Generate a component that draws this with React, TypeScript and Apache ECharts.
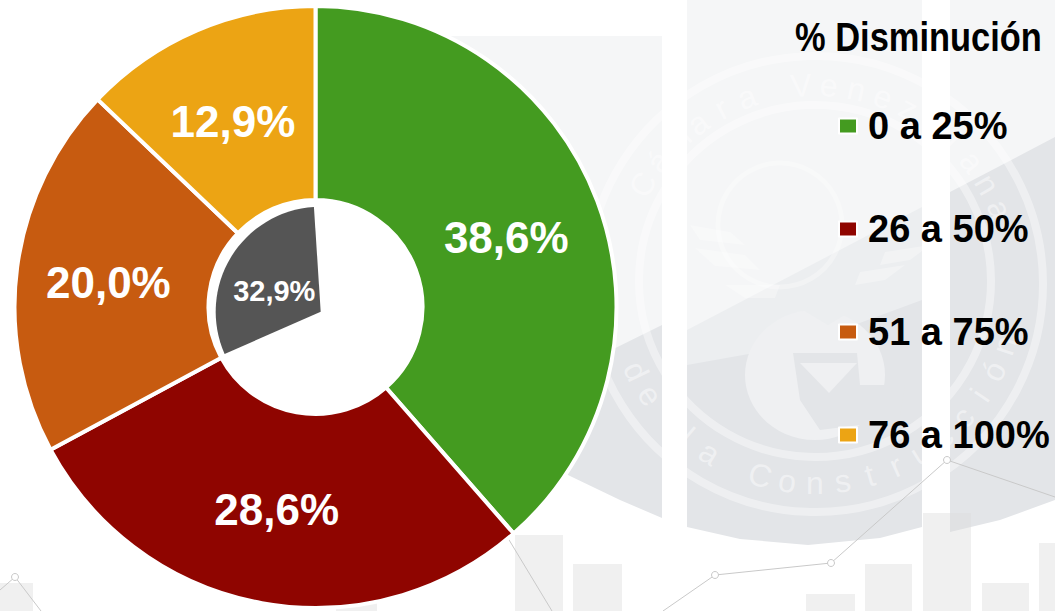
import React, { useEffect, useRef } from "react";
import * as echarts from "echarts";

const categories = ["0 a 25%", "26 a 50%", "51 a 75%", "76 a 100%"];
const outerValues = [38.6, 28.6, 20.0, 12.9];
const outerColors = ["#449b20", "#8f0500", "#c75b10", "#eca414"];
const innerValue = 32.9;
const innerRest = 74.7;
const titleText = "% Disminución";
const sealTop = "Cámara Venezolana";
const sealBottom = "de la Construcción";

const labelNudges = [[-3, 3], [-2, -1], [-2, 3], [-1, 5]];

const fmt = (v: number) => v.toFixed(1).replace(".", ",") + "%";

function sealLetters() {
  const cx = 815, cy = 284, r = 199;
  const out: any[] = [];
  const common = { fill: "#ffffff", font: "32px 'Liberation Sans'", align: "center", verticalAlign: "middle", opacity: 0.45 };
  [...sealTop].forEach((ch, i) => {
    const a = ((-60 + i * 8) * Math.PI) / 180;
    out.push({ type: "text", z: -5, x: cx + r * Math.sin(a), y: cy - r * Math.cos(a), rotation: -a, style: { ...common, text: ch } });
  });
  [...sealBottom].forEach((ch, i) => {
    const a = ((64 - i * 8) * Math.PI) / 180;
    out.push({ type: "text", z: -5, x: cx - r * Math.sin(a), y: cy + r * Math.cos(a), rotation: -a, style: { ...common, text: ch } });
  });
  return out;
}

function background() {
  const light = "#f5f6f7";
  const mid = "#eceef0";
  const dark = "#e3e5e8";
  const pale = "#eff0f2";
  const shine = { fill: "#ffffff", opacity: 0.3 };
  const els: any[] = [
    { type: "rect", z: -9, shape: { x: 430, y: 36, width: 232, height: 400 }, style: { fill: light } },
    { type: "rect", z: -9, shape: { x: 687, y: 0, width: 235, height: 400 }, style: { fill: light } },
    { type: "rect", z: -9, shape: { x: 950, y: 0, width: 105, height: 300 }, style: { fill: light } },
    { type: "polygon", z: -8, shape: { points: [[500, 405], [662, 325], [662, 518], [620, 500], [570, 476], [500, 440]] }, style: { fill: dark } },
    { type: "polygon", z: -8, shape: { points: [[687, 330], [922, 207], [922, 400], [687, 400]] }, style: { fill: mid } },
    { type: "polygon", z: -8, shape: { points: [[687, 365], [800, 345], [922, 300], [922, 527], [880, 538], [808, 545], [740, 539], [687, 527]] }, style: { fill: dark } },
    { type: "polygon", z: -8, shape: { points: [[950, 192], [1055, 137], [1055, 500], [1000, 520], [950, 532]] }, style: { fill: dark } },
    { type: "circle", z: -7, shape: { cx: 815, cy: 284, r: 228 }, style: { fill: "none", stroke: "#ffffff", lineWidth: 8, opacity: 0.4 } },
    { type: "circle", z: -7, shape: { cx: 815, cy: 281, r: 176 }, style: { fill: "none", stroke: "#ffffff", lineWidth: 8, opacity: 0.4 } },
    { type: "circle", z: -7, shape: { cx: 780, cy: 225, r: 62 }, style: { fill: "none", stroke: "#ffffff", lineWidth: 5, opacity: 0.3 } },
    { type: "polygon", z: -7, shape: { points: [[690, 225], [730, 232], [745, 245], [700, 240]] }, style: shine },
    { type: "polygon", z: -7, shape: { points: [[695, 248], [745, 255], [760, 270], [715, 266]] }, style: shine },
    { type: "polygon", z: -7, shape: { points: [[725, 285], [780, 285], [775, 298], [745, 298]] }, style: shine },
    { type: "polygon", z: -7, shape: { points: [[885, 252], [930, 245], [910, 260], [880, 265]] }, style: shine },
    { type: "polygon", z: -7, shape: { points: [[860, 272], [905, 265], [885, 280], [855, 285]] }, style: shine },
    { type: "ellipse", z: -7, shape: { cx: 815, cy: 375, rx: 70, ry: 65 }, style: { fill: pale } },
    { type: "polygon", z: -6, shape: { points: [[803, 310], [828, 297], [853, 310], [828, 325]] }, style: { fill: mid } },
    { type: "polygon", z: -6, shape: { points: [[793, 353], [857, 353], [860, 385], [905, 385], [900, 415], [860, 425], [820, 430], [800, 400]] }, style: { fill: dark } },
    { type: "polygon", z: -6, shape: { points: [[800, 363], [857, 363], [829, 393]] }, style: { fill: pale } },
  ];
  const bars = [
    [0, 33, 583], [336, 41, 583], [515, 48, 535], [573, 49, 564], [806, 49, 594],
    [865, 47, 564], [923, 48, 513], [982, 47, 583], [1039, 16, 543],
  ];
  bars.forEach(([x, w, top]) => {
    els.push({ type: "rect", z: -4, shape: { x, y: top, width: w, height: 611 - top }, style: { fill: "#dcdcdc", opacity: 0.42 } });
  });
  const lineStyle = { stroke: "#c9c9c9", lineWidth: 1, fill: "none" };
  els.push({ type: "polyline", z: -3, shape: { points: [[0, 590], [15, 577], [41, 611]] }, style: lineStyle });
  els.push({ type: "polyline", z: -3, shape: { points: [[497, 520], [552, 611]] }, style: lineStyle });
  els.push({ type: "polyline", z: -3, shape: { points: [[663, 611], [715, 575], [831, 563], [947, 460], [1055, 497]] }, style: lineStyle });
  [[15, 577], [715, 575], [831, 563], [947, 460]].forEach(([cx, cy]) => {
    els.push({ type: "circle", z: -2, shape: { cx, cy, r: 3.5 }, style: { fill: "#ffffff", stroke: "#c9c9c9", lineWidth: 1 } });
  });
  return [...els, ...sealLetters()];
}

export default function App() {
  const ref = useRef<HTMLDivElement>(null);
  useEffect(() => {
    const chart = echarts.init(ref.current!, undefined, { renderer: "svg" });
    chart.setOption({
      animation: false,
      backgroundColor: "#ffffff",
      graphic: [
        ...background(),
        {
          type: "text",
          z: 20,
          x: 795,
          y: 37,
          scaleX: 0.84,
          style: { text: titleText, fill: "#000000", font: "bold 41px 'Liberation Sans'", verticalAlign: "middle", align: "left" },
        },
      ],
      legend: {
        data: categories,
        orient: "vertical",
        left: 838,
        top: 107,
        padding: 0,
        itemWidth: 18,
        itemHeight: 15,
        itemGap: 65,
        icon: "rect",
        selectedMode: false,
        textStyle: { color: "#000000", fontFamily: "'Liberation Sans'", fontWeight: "bold", fontSize: 38, padding: [0, 0, 0, 6] },
      },
      series: [
        {
          type: "pie",
          center: [315.5, 307],
          radius: [107, 301],
          startAngle: 90,
          clockwise: true,
          data: categories.map((name, i) => ({
            name,
            value: outerValues[i],
            itemStyle: { color: outerColors[i] },
            label: { offset: labelNudges[i] },
          })),
          itemStyle: { borderColor: "#ffffff", borderWidth: 4 },
          label: {
            position: "inside",
            color: "#ffffff",
            fontFamily: "'Liberation Sans'",
            fontWeight: "bold",
            fontSize: 44,
            formatter: (p: any) => fmt(p.value),
          },
          labelLine: { show: false },
          silent: true,
        },
        {
          type: "pie",
          center: [320.7, 311.7],
          radius: [0, 105],
          startAngle: 93.7,
          clockwise: false,
          data: [
            {
              name: "inner",
              value: innerValue,
              itemStyle: { color: "#555555" },
              label: {
                show: true,
                position: "inside",
                color: "#ffffff",
                fontFamily: "'Liberation Sans'",
                fontWeight: "bold",
                fontSize: 29,
                offset: [1, 8],
                formatter: (p: any) => fmt(p.value),
              },
            },
            { name: "rest", value: innerRest, itemStyle: { color: "transparent" }, label: { show: false } },
          ],
          labelLine: { show: false },
          silent: true,
        },
      ],
    });
    return () => chart.dispose();
  }, []);
  return <div ref={ref} style={{ position: "fixed", left: 0, top: 0, width: 1055, height: 611 }} />;
}
